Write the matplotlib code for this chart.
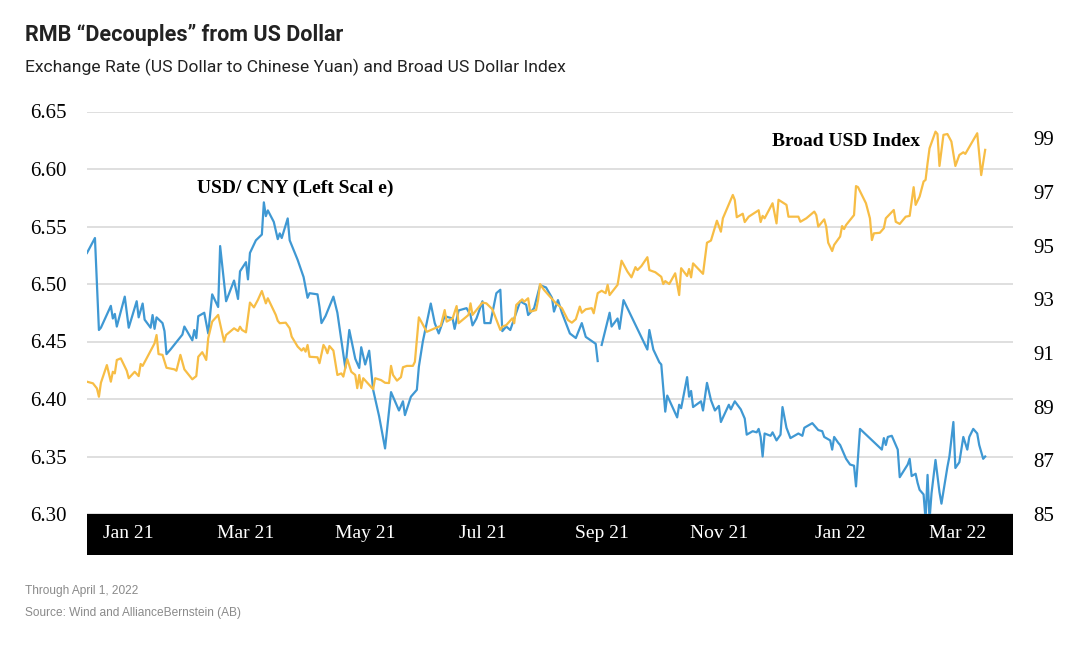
import numpy as np
import pandas as pd
import matplotlib
matplotlib.use('Agg')
import matplotlib.pyplot as plt
from matplotlib.patches import Rectangle

# USD/CNY exchange rate (left scale)
cny_dates = [
    '2021-01-04', '2021-01-08', '2021-01-10', '2021-01-11', '2021-01-16', '2021-01-17', '2021-01-18', '2021-01-19', '2021-01-23', '2021-01-25',
    '2021-01-29', '2021-01-30', '2021-02-01', '2021-02-02', '2021-02-05', '2021-02-06', '2021-02-07', '2021-02-08', '2021-02-11', '2021-02-12',
    '2021-02-13', '2021-02-15', '2021-02-21', '2021-02-22', '2021-02-26', '2021-02-27', '2021-02-28', '2021-03-01', '2021-03-04', '2021-03-06',
    '2021-03-08', '2021-03-11', '2021-03-12', '2021-03-15', '2021-03-19', '2021-03-21', '2021-03-22', '2021-03-25', '2021-03-26', '2021-03-27',
    '2021-03-30', '2021-04-02', '2021-04-03', '2021-04-04', '2021-04-05', '2021-04-08', '2021-04-10', '2021-04-11', '2021-04-12', '2021-04-15',
    '2021-04-16', '2021-04-20', '2021-04-23', '2021-04-25', '2021-04-26', '2021-04-30', '2021-05-01', '2021-05-02', '2021-05-04', '2021-05-08',
    '2021-05-10', '2021-05-14', '2021-05-16', '2021-05-19', '2021-05-21', '2021-05-22', '2021-05-24', '2021-05-26', '2021-05-28', '2021-05-31',
    '2021-06-03', '2021-06-06', '2021-06-10', '2021-06-12', '2021-06-13', '2021-06-16', '2021-06-19', '2021-06-20', '2021-06-22', '2021-06-26',
    '2021-06-28', '2021-06-30', '2021-07-03', '2021-07-07', '2021-07-08', '2021-07-10', '2021-07-14', '2021-07-16', '2021-07-17', '2021-07-19',
    '2021-07-22', '2021-07-23', '2021-07-26', '2021-07-29', '2021-07-31', '2021-08-01', '2021-08-03', '2021-08-05', '2021-08-07', '2021-08-10',
    '2021-08-13', '2021-08-14', '2021-08-17', '2021-08-20', '2021-08-23', '2021-08-26', '2021-08-27', '2021-08-29', '2021-08-31', '2021-09-04',
    '2021-09-07', '2021-09-10', '2021-09-12', '2021-09-17', '2021-09-18', '2021-09-19', '2021-09-20', '2021-09-24', '2021-09-25', '2021-09-28',
    '2021-09-29', '2021-10-01', '2021-10-13', '2021-10-14', '2021-10-16', '2021-10-19', '2021-10-20', '2021-10-22', '2021-10-23', '2021-10-28',
    '2021-10-29', '2021-10-30', '2021-11-02', '2021-11-03', '2021-11-04', '2021-11-05', '2021-11-09', '2021-11-10', '2021-11-12', '2021-11-14',
    '2021-11-16', '2021-11-18', '2021-11-19', '2021-11-23', '2021-11-24', '2021-11-26', '2021-11-29', '2021-12-01', '2021-12-02', '2021-12-05',
    '2021-12-07', '2021-12-08', '2021-12-09', '2021-12-10', '2021-12-11', '2021-12-14', '2021-12-15', '2021-12-17', '2021-12-19', '2021-12-20',
    '2021-12-22', '2021-12-24', '2021-12-28', '2021-12-30', '2021-12-31', '2022-01-04', '2022-01-05', '2022-01-07', '2022-01-09', '2022-01-10',
    '2022-01-13', '2022-01-14', '2022-01-15', '2022-01-17', '2022-01-18', '2022-01-20', '2022-01-21', '2022-01-23', '2022-01-25', '2022-01-26',
    '2022-01-28', '2022-02-08', '2022-02-09', '2022-02-10', '2022-02-11', '2022-02-13', '2022-02-16', '2022-02-17', '2022-02-21', '2022-02-22',
    '2022-02-23', '2022-02-25', '2022-02-26', '2022-02-27', '2022-03-01', '2022-03-02', '2022-03-03', '2022-03-04', '2022-03-05', '2022-03-07',
    '2022-03-09', '2022-03-10', '2022-03-13', '2022-03-14', '2022-03-16', '2022-03-17', '2022-03-19', '2022-03-21', '2022-03-23', '2022-03-24',
    '2022-03-26', '2022-03-28', '2022-03-29', '2022-03-31', '2022-04-01',
]
cny_rate = [
    6.527, 6.540, 6.460, 6.462, 6.481, 6.470, 6.474, 6.463, 6.489, 6.462,
    6.485, 6.471, 6.483, 6.469, 6.462, 6.473, 6.461, 6.471, 6.466, 6.459,
    6.439, 6.443, 6.456, 6.463, 6.451, 6.460, 6.453, 6.472, 6.475, 6.457,
    6.491, 6.480, 6.533, 6.485, 6.503, 6.487, 6.511, 6.519, 6.504, 6.527,
    6.538, 6.543, 6.571, 6.559, 6.564, 6.554, 6.539, 6.544, 6.540, 6.557,
    6.538, 6.521, 6.506, 6.488, 6.492, 6.491, 6.480, 6.466, 6.472, 6.489,
    6.475, 6.427, 6.460, 6.435, 6.427, 6.445, 6.430, 6.442, 6.408, 6.385,
    6.357, 6.406, 6.390, 6.398, 6.386, 6.402, 6.408, 6.428, 6.450, 6.483,
    6.466, 6.457, 6.472, 6.470, 6.461, 6.477, 6.479, 6.473, 6.464, 6.470,
    6.485, 6.466, 6.466, 6.492, 6.495, 6.459, 6.463, 6.460, 6.470, 6.485,
    6.482, 6.473, 6.479, 6.499, 6.497, 6.488, 6.476, 6.486, 6.475, 6.457,
    6.453, 6.466, 6.454, 6.448, 6.433, np.nan, 6.447, 6.475, 6.463, 6.470,
    6.461, 6.486, 6.443, 6.460, 6.443, 6.432, 6.430, 6.389, 6.403, 6.384,
    6.395, 6.392, 6.419, 6.402, 6.407, 6.393, 6.398, 6.390, 6.414, 6.399,
    6.390, 6.394, 6.380, 6.395, 6.391, 6.398, 6.391, 6.383, 6.369, 6.372,
    6.371, 6.374, 6.367, 6.350, 6.370, 6.368, 6.371, 6.364, 6.369, 6.393,
    6.375, 6.366, 6.370, 6.368, 6.375, 6.379, 6.377, 6.373, 6.372, 6.367,
    6.364, 6.356, 6.367, 6.362, 6.360, 6.352, 6.348, 6.343, 6.342, 6.324,
    6.374, 6.356, 6.366, 6.360, 6.367, 6.368, 6.356, 6.332, 6.343, 6.348,
    6.333, 6.335, 6.327, 6.321, 6.317, 6.295, 6.334, 6.295, 6.318, 6.347,
    6.319, 6.309, 6.341, 6.350, 6.380, 6.340, 6.345, 6.367, 6.356, 6.367,
    6.374, 6.370, 6.360, 6.348, 6.350,
]

# Broad US Dollar Index (right scale)
usd_dates = [
    '2021-01-04', '2021-01-07', '2021-01-09', '2021-01-10', '2021-01-11', '2021-01-14', '2021-01-16', '2021-01-17', '2021-01-18', '2021-01-19',
    '2021-01-21', '2021-01-24', '2021-01-25', '2021-01-28', '2021-01-30', '2021-01-31', '2021-02-01', '2021-02-07', '2021-02-08', '2021-02-09',
    '2021-02-11', '2021-02-13', '2021-02-17', '2021-02-18', '2021-02-20', '2021-02-22', '2021-02-26', '2021-02-28', '2021-03-01', '2021-03-03',
    '2021-03-04', '2021-03-05', '2021-03-06', '2021-03-08', '2021-03-11', '2021-03-14', '2021-03-15', '2021-03-19', '2021-03-21', '2021-03-22',
    '2021-03-23', '2021-03-25', '2021-03-27', '2021-03-29', '2021-03-31', '2021-04-02', '2021-04-04', '2021-04-05', '2021-04-09', '2021-04-10',
    '2021-04-11', '2021-04-14', '2021-04-16', '2021-04-17', '2021-04-20', '2021-04-22', '2021-04-23', '2021-04-24', '2021-04-25', '2021-04-26',
    '2021-04-30', '2021-05-01', '2021-05-03', '2021-05-04', '2021-05-05', '2021-05-06', '2021-05-08', '2021-05-10', '2021-05-12', '2021-05-13',
    '2021-05-15', '2021-05-17', '2021-05-19', '2021-05-20', '2021-05-21', '2021-05-22', '2021-05-23', '2021-05-28', '2021-05-29', '2021-06-01',
    '2021-06-03', '2021-06-05', '2021-06-06', '2021-06-07', '2021-06-09', '2021-06-11', '2021-06-12', '2021-06-14', '2021-06-17', '2021-06-18',
    '2021-06-20', '2021-06-24', '2021-06-28', '2021-07-01', '2021-07-03', '2021-07-04', '2021-07-07', '2021-07-09', '2021-07-10', '2021-07-15',
    '2021-07-16', '2021-07-17', '2021-07-22', '2021-07-24', '2021-07-27', '2021-07-31', '2021-08-01', '2021-08-03', '2021-08-06', '2021-08-07',
    '2021-08-08', '2021-08-11', '2021-08-12', '2021-08-14', '2021-08-15', '2021-08-18', '2021-08-19', '2021-08-20', '2021-08-22', '2021-08-25',
    '2021-08-28', '2021-08-31', '2021-09-03', '2021-09-05', '2021-09-07', '2021-09-09', '2021-09-10', '2021-09-12', '2021-09-15', '2021-09-16',
    '2021-09-18', '2021-09-20', '2021-09-22', '2021-09-23', '2021-09-24', '2021-09-28', '2021-09-30', '2021-10-03', '2021-10-05', '2021-10-07',
    '2021-10-08', '2021-10-10', '2021-10-13', '2021-10-14', '2021-10-17', '2021-10-20', '2021-10-21', '2021-10-22', '2021-10-24', '2021-10-27',
    '2021-10-29', '2021-10-30', '2021-11-02', '2021-11-03', '2021-11-04', '2021-11-05', '2021-11-10', '2021-11-12', '2021-11-14', '2021-11-17',
    '2021-11-19', '2021-11-20', '2021-11-25', '2021-11-26', '2021-11-27', '2021-11-30', '2021-12-01', '2021-12-03', '2021-12-08', '2021-12-09',
    '2021-12-10', '2021-12-11', '2021-12-15', '2021-12-17', '2021-12-18', '2021-12-22', '2021-12-23', '2021-12-28', '2021-12-29', '2022-01-01',
    '2022-01-05', '2022-01-06', '2022-01-07', '2022-01-10', '2022-01-11', '2022-01-12', '2022-01-14', '2022-01-15', '2022-01-18', '2022-01-19',
    '2022-01-20', '2022-01-21', '2022-01-25', '2022-01-26', '2022-01-27', '2022-01-31', '2022-02-02', '2022-02-03', '2022-02-04', '2022-02-07',
    '2022-02-09', '2022-02-10', '2022-02-14', '2022-02-15', '2022-02-17', '2022-02-20', '2022-02-22', '2022-02-24', '2022-02-25', '2022-02-27',
    '2022-03-01', '2022-03-02', '2022-03-03', '2022-03-04', '2022-03-07', '2022-03-08', '2022-03-09', '2022-03-11', '2022-03-13', '2022-03-15',
    '2022-03-17', '2022-03-19', '2022-03-21', '2022-03-22', '2022-03-28', '2022-03-30', '2022-04-01',
]
usd_index = [
    89.93, 89.87, 89.68, 89.37, 89.89, 90.55, 89.93, 90.30, 90.24, 90.74,
    90.80, 90.34, 90.06, 90.30, 90.14, 90.59, 90.52, 91.36, 91.67, 90.96,
    90.93, 90.45, 90.39, 90.34, 90.93, 90.39, 90.02, 90.14, 90.86, 91.03,
    90.89, 90.74, 91.55, 92.17, 92.42, 91.42, 91.67, 91.92, 91.82, 91.98,
    91.86, 91.77, 92.88, 92.70, 92.98, 93.31, 92.85, 93.04, 92.42, 92.20,
    92.11, 92.13, 91.92, 91.61, 91.24, 91.09, 91.18, 91.05, 91.30, 90.86,
    90.84, 90.62, 91.30, 91.18, 90.99, 91.26, 91.09, 90.18, 90.24, 90.12,
    90.77, 90.30, 90.18, 89.69, 90.18, 89.69, 90.06, 89.65, 90.06, 89.99,
    89.89, 89.88, 90.52, 90.18, 89.97, 90.10, 90.47, 90.52, 90.52, 90.67,
    92.33, 91.79, 91.92, 92.01, 92.60, 92.17, 92.29, 92.75, 92.11, 92.42,
    92.85, 92.42, 92.88, 92.85, 92.63, 91.86, 91.98, 92.04, 92.29, 92.11,
    92.79, 93.00, 92.91, 93.04, 92.54, 92.60, 92.98, 93.57, 93.35, 93.10,
    92.85, 92.67, 92.23, 92.13, 92.26, 92.73, 92.50, 92.63, 92.67, 92.48,
    93.23, 93.32, 93.23, 93.54, 93.16, 93.54, 94.44, 94.03, 93.82, 94.20,
    94.09, 94.24, 94.57, 94.09, 94.01, 93.84, 93.57, 93.68, 93.57, 93.97,
    93.16, 94.16, 93.87, 94.13, 93.82, 94.34, 93.95, 95.11, 95.19, 95.93,
    95.52, 96.02, 96.89, 96.70, 96.06, 96.19, 95.88, 96.08, 96.32, 95.88,
    96.11, 96.02, 96.58, 95.83, 96.71, 96.52, 96.08, 96.08, 95.89, 96.02,
    96.27, 96.14, 95.71, 95.98, 95.71, 95.11, 94.80, 95.03, 95.34, 95.73,
    95.62, 95.77, 96.14, 97.22, 97.18, 96.58, 96.02, 95.21, 95.46, 95.48,
    95.65, 96.02, 96.33, 95.89, 95.81, 96.08, 96.11, 97.18, 96.52, 96.83,
    97.39, 97.45, 98.07, 98.63, 99.25, 99.16, 97.97, 99.13, 99.16, 98.88,
    97.97, 98.38, 98.48, 98.42, 99.19, 97.63, 98.57,
]

# axis ticks
left_ticks = [6.30, 6.35, 6.40, 6.45, 6.50, 6.55, 6.60, 6.65]
right_ticks = [85, 87, 89, 91, 93, 95, 97, 99]
tick_dates = ['2021-01-25', '2021-03-25', '2021-05-24', '2021-07-22',
              '2021-09-20', '2021-11-18', '2022-01-18', '2022-03-18']
tick_labels = ['Jan 21', 'Mar 21', 'May 21', 'Jul 21', 'Sep 21', 'Nov 21', 'Jan 22', 'Mar 22']

blue = '#3f98d3'
orange = '#f7bd45'

plt.rcParams['font.family'] = ['Liberation Serif', 'DejaVu Serif']

W, H = 1082, 652
fig = plt.figure(figsize=(W / 100, H / 100), dpi=100)
ax = fig.add_axes([87 / W, 1 - 514 / H, (1013 - 87) / W, (514 - 111.5) / H])
ax2 = ax.twinx()

ax.plot(pd.to_datetime(cny_dates), cny_rate, color=blue, lw=1.6)
ax2.plot(pd.to_datetime(usd_dates), usd_index, color=orange, lw=1.6)

ax.set_ylim(6.30, 6.65)
ax.set_yticks(left_ticks)
ax.set_yticklabels([f'{v:.2f}' for v in left_ticks])
ax2.set_ylim(85, 100)
ax2.set_yticks(right_ticks)
ax.set_xlim(pd.Timestamp('2021-01-04'), pd.Timestamp('2022-04-15'))
ax.set_xticks(pd.to_datetime(tick_dates))
ax.set_xticklabels(tick_labels)

ax.grid(axis='y', color='#dcdcdc', lw=1.3)
ax.set_axisbelow(True)
for a in (ax, ax2):
    for s in a.spines.values():
        s.set_visible(False)

ax.tick_params(axis='y', length=0, pad=14.5, labelsize=15)
ax2.tick_params(axis='y', length=0, pad=14.5, labelsize=15)
ax.tick_params(axis='x', length=0, pad=8, labelsize=14, labelcolor='white')

# black band behind the month labels
fig.add_artist(Rectangle((87 / W, 1 - 555 / H), (1013 - 87) / W, (555 - 514) / H,
                         transform=fig.transFigure, facecolor='black',
                         edgecolor='none', zorder=-1))

# series labels
ax.text((197 - 87) / 926, (514 - 188) / 402.5, 'USD/ CNY (Left Scal e)',
        transform=ax.transAxes, fontsize=14, fontweight='bold', va='center')
ax.text((772 - 87) / 926, (514 - 141) / 402.5, 'Broad USD Index',
        transform=ax.transAxes, fontsize=14, fontweight='bold', va='center')

# title and notes
fig.text(25 / W, 1 - 35 / H, 'RMB “Decouples” from US Dollar', fontsize=15.5,
         fontweight='bold', color='#222222', va='center',
         family=['Roboto', 'DejaVu Sans'])
fig.text(25 / W, 1 - 67 / H, 'Exchange Rate (US Dollar to Chinese Yuan) and Broad US Dollar Index',
         fontsize=12.6, color='#222222', va='center',
         family=['Roboto', 'DejaVu Sans'])
fig.text(25 / W, 1 - 591 / H, 'Through April 1, 2022', fontsize=8.6, color='#8a8a8a',
         va='center', family=['Liberation Sans', 'DejaVu Sans'])
fig.text(25 / W, 1 - 613 / H, 'Source: Wind and AllianceBernstein (AB)', fontsize=8.6,
         color='#8a8a8a', va='center', family=['Liberation Sans', 'DejaVu Sans'])

fig.savefig('out.png', dpi=100)
